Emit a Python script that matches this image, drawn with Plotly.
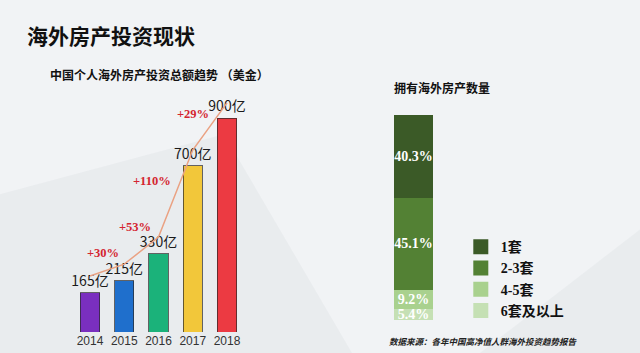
import plotly.graph_objects as go

# ---- data ----
years = ["2014", "2015", "2016", "2017", "2018"]
amounts = [165, 215, 330, 700, 900]          # 亿美元
growth = ["+30%", "+53%", "+110%", "+29%"]

holding_cats = ["1套", "2-3套", "4-5套", "6套及以上"]
holding_share = [40.3, 45.1, 9.2, 5.4]

# ---- styles ----
bar_colors = ["#7a2fbf", "#1f6fcc", "#1bb27a", "#f2c73a", "#ec3a42"]
hold_colors = ["#3b5a27", "#538134", "#a9d18e", "#c5e0b4"]
growth_offsets = [(-4, 17), (-6, 24), (-24, 13), (-17, 12)]

CJK = "Noto Sans CJK SC"
SERIF = "Liberation Serif, Noto Sans CJK SC"

fig = go.Figure()

# left: bars
x_idx = list(range(len(years)))
fig.add_trace(go.Bar(
    x=x_idx, y=amounts, xaxis="x", yaxis="y", width=0.56,
    marker=dict(color=bar_colors, line=dict(color="rgba(40,40,40,0.7)", width=1)),
    text=[f"{v}亿" for v in amounts], textposition="outside",
    textfont=dict(family=CJK, size=13, color="#1a1a1a"),
    cliponaxis=False, showlegend=False, hoverinfo="skip",
))
# trend line
fig.add_trace(go.Scatter(
    x=x_idx, y=amounts, xaxis="x", yaxis="y2", mode="lines",
    line=dict(color="#eaa283", width=1.5), showlegend=False, hoverinfo="skip",
))

# right: stacked share bar (bottom first)
for cat, val, col in reversed(list(zip(holding_cats, holding_share, hold_colors))):
    fig.add_trace(go.Bar(
        x=["share"], y=[val], xaxis="x2", yaxis="y3", width=1,
        marker=dict(color=col, line=dict(width=0)),
        text=[f"<b>{val}%</b>"], textposition="inside", insidetextanchor="middle",
        textangle=0, constraintext="none",
        textfont=dict(family="Liberation Serif", size=14, color="white"),
        showlegend=False, hoverinfo="skip",
    ))
# legend entries
for cat, col in zip(holding_cats, hold_colors):
    fig.add_trace(go.Scatter(
        x=[None], y=[None], xaxis="x2", yaxis="y3", mode="markers", name=f"<b>{cat}</b>",
        marker=dict(symbol="square", size=15, color=col), legendgroup=cat,
    ))

annotations = []
for i, g in enumerate(growth):
    dx, dy = growth_offsets[i]
    annotations.append(dict(
        x=i + 0.5, y=(amounts[i] + amounts[i + 1]) / 2, xref="x", yref="y2",
        text=f"<b>{g}</b>", showarrow=False, xshift=dx, yshift=dy,
        font=dict(family="Liberation Serif", size=12.5, color="#d42530"),
    ))

annotations += [
    dict(x=25 / 640, y=1 - 35 / 353, xref="paper", yref="paper", xanchor="left", yanchor="middle",
         text="<b>海外房产投资现状</b>", showarrow=False, font=dict(family=CJK, size=21, color="#111")),
    dict(x=48 / 640, y=1 - 74 / 353, xref="paper", yref="paper", xanchor="left", yanchor="middle",
         text="<b>中国个人海外房产投资总额趋势 （美金）</b>", showarrow=False,
         font=dict(family=CJK, size=12, color="#111")),
    dict(x=392 / 640, y=1 - 87 / 353, xref="paper", yref="paper", xanchor="left", yanchor="middle",
         text="<b>拥有海外房产数量</b>", showarrow=False, font=dict(family=CJK, size=12, color="#111")),
    dict(x=387 / 640, y=1 - 341 / 353, xref="paper", yref="paper", xanchor="left", yanchor="middle",
         text="<b><i>数据来源：各年中国高净值人群海外投资趋势报告</i></b>", showarrow=False,
         font=dict(family=CJK, size=8.5, color="#222")),
]

shapes = [
    dict(type="path", xref="paper", yref="paper", layer="below",
         path="M 0 0 L 0 0.45 L 0.35 0.62 L 0.55 0 Z",
         fillcolor="rgba(200,204,208,0.18)", line=dict(width=0)),
    dict(type="path", xref="paper", yref="paper", layer="below",
         path="M 0.75 0 L 1 0.35 L 1 0 Z",
         fillcolor="rgba(200,204,208,0.18)", line=dict(width=0)),
]

fig.update_layout(
    width=640, height=353, margin=dict(l=0, r=0, t=0, b=0),
    paper_bgcolor="#f1f3f5", plot_bgcolor="rgba(0,0,0,0)",
    barmode="stack", uniformtext=dict(minsize=14, mode="show"),
    xaxis=dict(domain=[0.0871, 0.4082], range=[-1, 5], tickvals=x_idx, ticktext=years,
               showgrid=False, zeroline=False, showline=False, ticks="",
               tickfont=dict(family="Liberation Sans", size=12, color="#333")),
    yaxis=dict(domain=[0.0595, 1], range=[0, 1399], visible=False),
    yaxis2=dict(overlaying="y", range=[-73, 1337], visible=False),
    xaxis2=dict(domain=[0.6156, 0.6766], range=[-0.5, 0.5], visible=False),
    yaxis3=dict(domain=[0.0935, 0.674], range=[0, 100], visible=False, anchor="x2"),
    legend=dict(x=0.72, y=0.345, xanchor="left", yanchor="top", bgcolor="rgba(0,0,0,0)",
                font=dict(family=SERIF, size=14, color="#111"), tracegroupgap=6,
                traceorder="normal"),
    annotations=annotations, shapes=shapes,
)

fig.write_html("out.html")
